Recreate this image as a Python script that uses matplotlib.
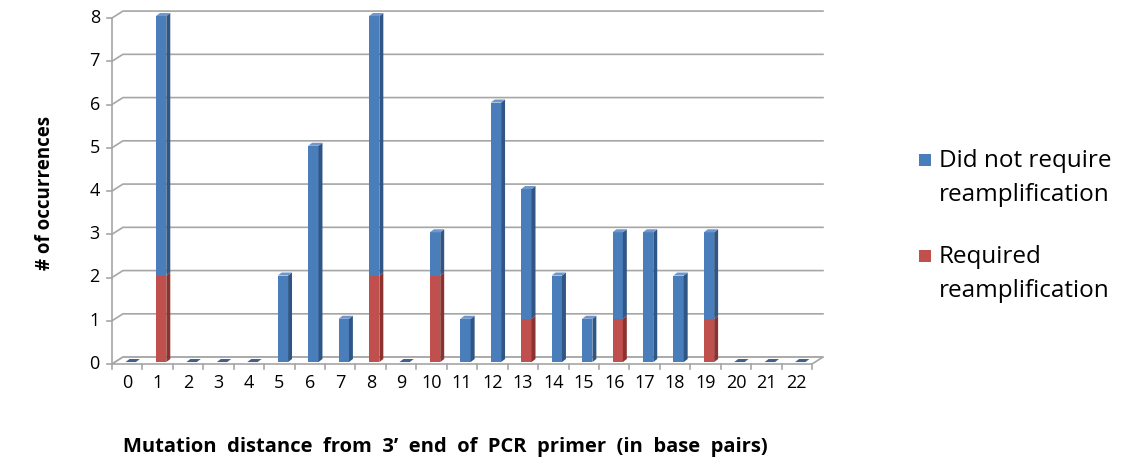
import numpy as np
import matplotlib.pyplot as plt
from matplotlib.patches import Polygon, Rectangle

# distance from 3' end (bp)
distance = list(range(23))
# Required reamplification (red, bottom)
required = [0, 2, 0, 0, 0, 0, 0, 0, 2, 0, 2, 0, 0, 1, 0, 0, 1, 0, 0, 1, 0, 0, 0]
# Did not require reamplification (blue, stacked on top)
not_required = [0, 6, 0, 0, 0, 2, 5, 1, 6, 0, 1, 1, 6, 3, 2, 1, 2, 3, 2, 2, 0, 0, 0]
yticks = list(range(9))

plt.rcParams['font.family'] = ['Open Sans', 'DejaVu Sans']

W, H = 1131, 467
fig = plt.figure(figsize=(W / 100, H / 100), dpi=100)
# axes box = front face of the 3d plot area
ax = fig.add_axes([112 / W, (H - 364) / H, 700 / W, 346 / H])
ax.set_xlim(-0.5, 22.5)
ax.set_ylim(0, 8)
ax.axis('off')

grid_col = '#a6a6a6'
# depth of the walls (data units)
dx, dy = 0.36, 0.16
x0, x1 = -0.5, 22.5

# back wall gridlines with the diagonal on the side wall
for y in yticks:
    ax.plot([x0, x0 + dx, x1 + dx], [y, y + dy, y + dy], color=grid_col, lw=1.2,
            clip_on=False, zorder=1)
    ax.plot([x0 - 0.17, x0], [y, y], color=grid_col, lw=1.2, clip_on=False)
    ax.text(x0 - 0.4, y, str(y), ha='right', va='center', fontsize=13)

# front vertical of y axis
ax.plot([x0, x0], [0, 8], color=grid_col, lw=1.2, clip_on=False, zorder=1)

# floor
floor = Polygon([[x0, 0], [x1, 0], [x1 + dx, dy], [x0 + dx, dy]], closed=True,
                facecolor='white', edgecolor=grid_col, lw=1.2, clip_on=False, zorder=1)
ax.add_patch(floor)

# x ticks at category boundaries
for b in np.arange(-0.5, 23, 1.0):
    ax.plot([b, b], [0, -0.12], color=grid_col, lw=1.2, clip_on=False)
for d in distance:
    ax.text(d, -0.22, str(d), ha='center', va='top', fontsize=13)

# bars with a little 3d look
w = 0.34
bdx, bdy = 0.13, 0.07
xoff = (dx - bdx) / 2
yoff = (dy - bdy) / 2


def bar3d(xc, bottom, height, front, side, top):
    left = xc + xoff - w / 2
    right = left + w
    b = bottom + yoff
    t = b + height
    if height > 0:
        ax.add_patch(Polygon([[left, b], [right, b], [right, t], [left, t]],
                             facecolor=front, edgecolor='none', zorder=3, clip_on=False))
        ax.add_patch(Polygon([[right, b], [right + bdx, b + bdy], [right + bdx, t + bdy], [right, t]],
                             facecolor=side, edgecolor='none', zorder=3, clip_on=False))
    if top is not None:
        ax.add_patch(Polygon([[left, t], [right, t], [right + bdx, t + bdy], [left + bdx, t + bdy]],
                             facecolor=top, edgecolor='none', zorder=4, clip_on=False))


for d, r, n in zip(distance, required, not_required):
    bar3d(d, 0, r, '#c0504d', '#8c3330', None)
    bar3d(d, r, n, '#4a7ebb', '#2f5684', '#6f97cc' if r + n > 0 else '#3d5f88')

# axis titles
fig.text(45 / W, 1 - 193 / H, '# of occurrences', rotation=90, ha='center', va='center',
         fontsize=13.5, fontweight='bold')
fig.text(445 / W, 1 - 447 / H, 'Mutation  distance  from  3\u2019  end  of  PCR  primer  (in  base  pairs)',
         ha='center', va='center', fontsize=14.5, fontweight='bold')

# legend
for yc, col, lbl in [(160, '#4a7ebb', 'Did not require\nreamplification'),
                     (256, '#c0504d', 'Required\nreamplification')]:
    fig.patches.append(Rectangle((919 / W, 1 - (yc + 6) / H), 12 / W, 12 / H,
                                 transform=fig.transFigure, facecolor=col, edgecolor='none'))
    fig.text(939 / W, 1 - (yc + 18) / H, lbl, ha='left', va='center', fontsize=17.5,
             linespacing=1.55)

fig.savefig('out.png', dpi=100)
